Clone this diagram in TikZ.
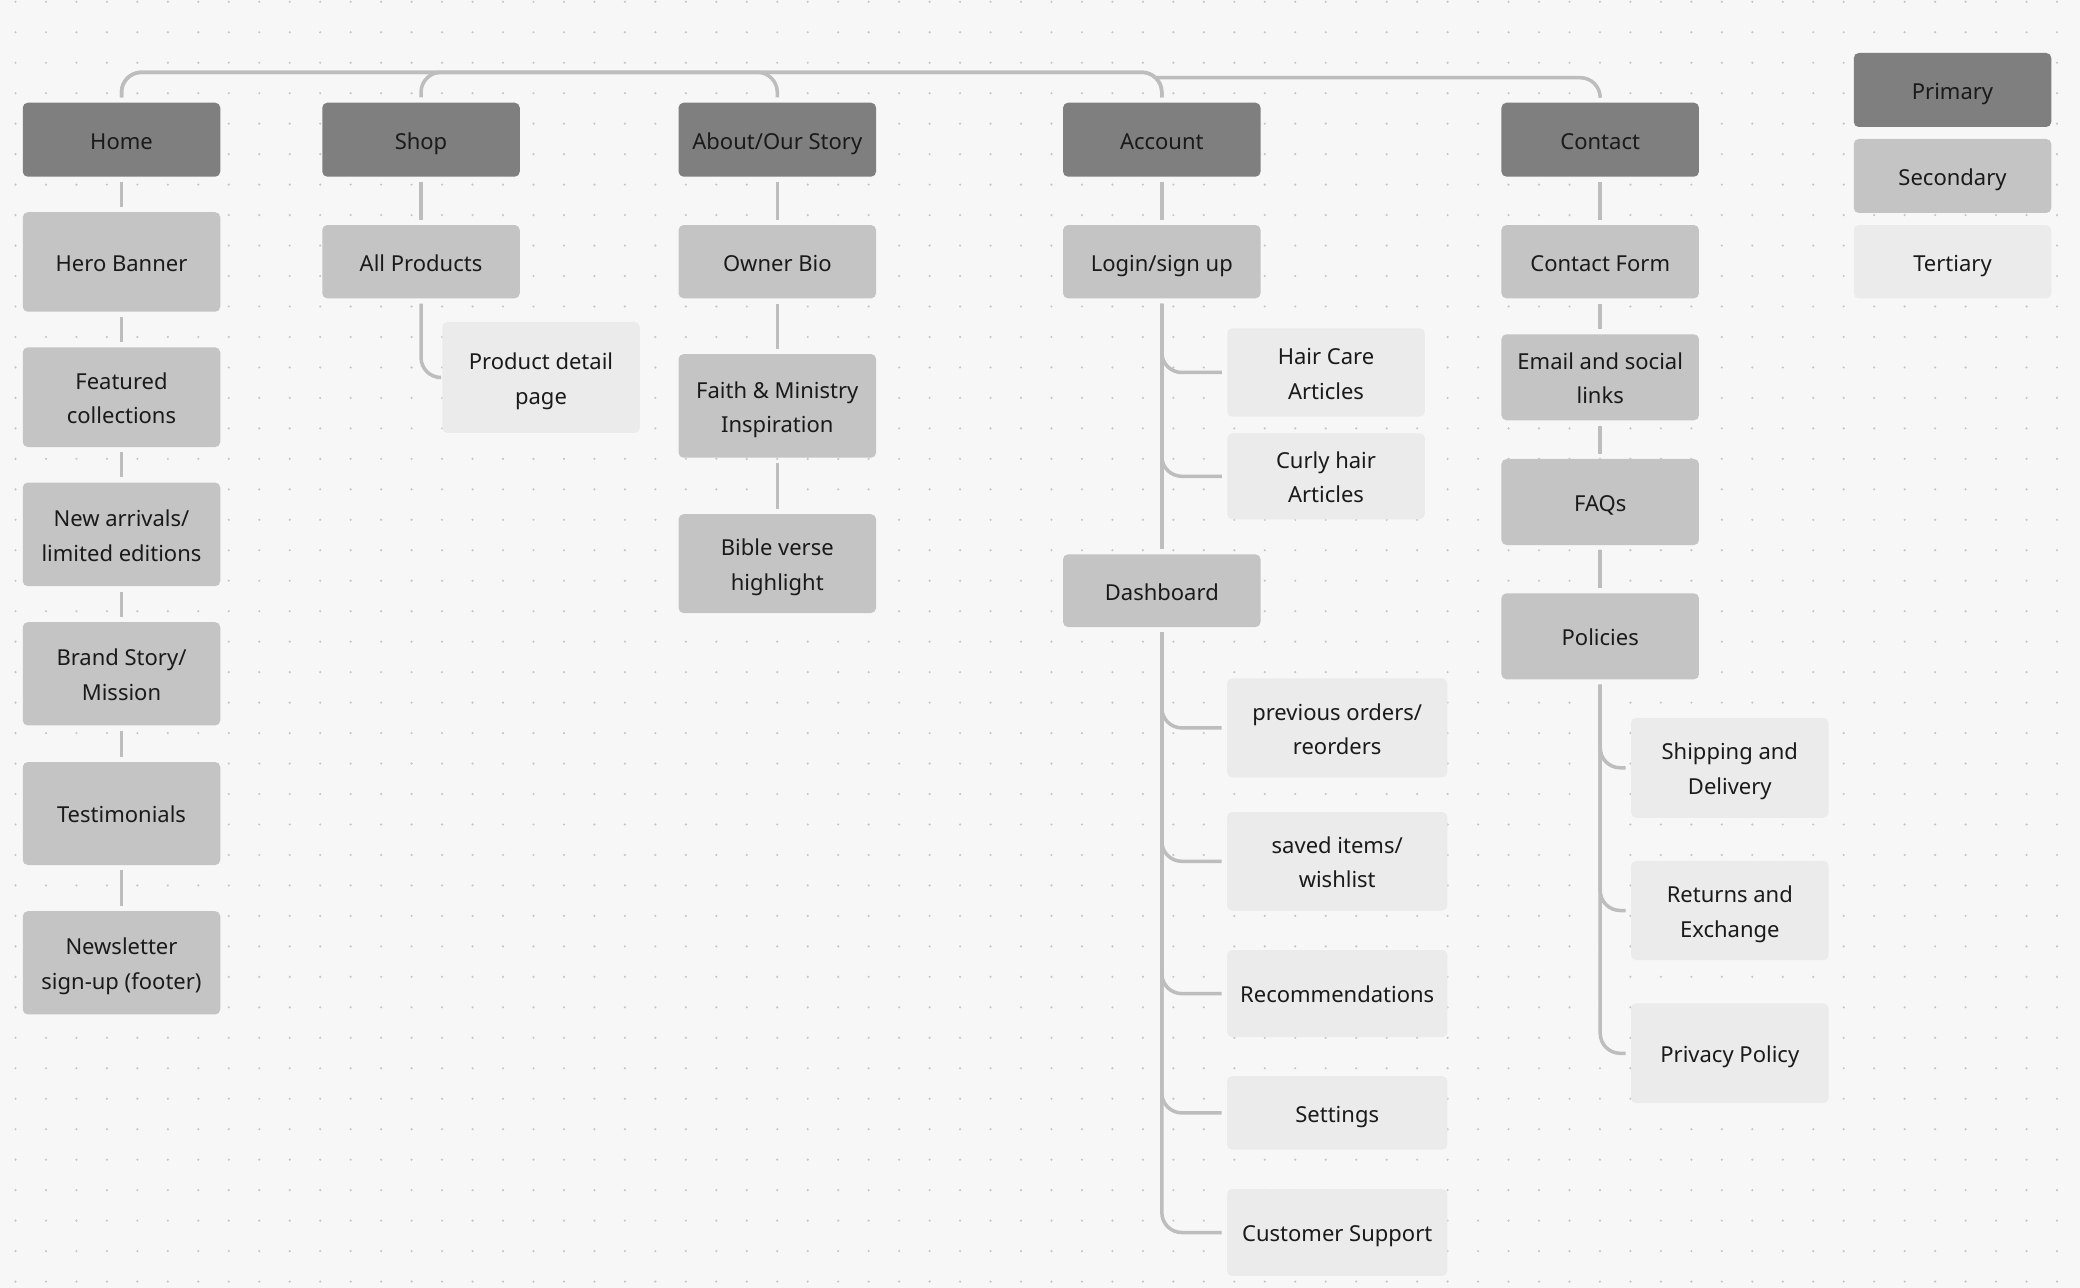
\documentclass[tikz,border=0pt]{standalone}
\usepackage{fontspec}
\setmainfont{Noto Sans}
\definecolor{bgc}{HTML}{F7F7F7}
\definecolor{dotc}{HTML}{C6C6C6}
\definecolor{primc}{HTML}{7F7F7F}
\definecolor{secc}{HTML}{C4C4C4}
\definecolor{terc}{HTML}{EBEBEB}
\definecolor{connc}{HTML}{BDBDBD}
\definecolor{txtc}{HTML}{1A1A1A}
\newcommand{\zs}{\rule[-3pt]{0pt}{15.36pt}}
\tikzset{
  box/.style={rounded corners=2.5pt, inner sep=0pt, align=center, text=txtc,
    font=\fontsize{11}{17.25}\selectfont, minimum width=98.75pt},
  prim/.style={box, fill=primc, minimum height=37pt},
  sec/.style={box, fill=secc},
  ter/.style={box, fill=terc},
  wide/.style={minimum width=110.2pt},
  conn/.style={draw=connc, line width=1.75pt, rounded corners=10pt},
  gap/.style={shorten <=2.5pt, shorten >=2.5pt}
}
\begin{document}
\begin{tikzpicture}[x=0.5pt,y=-0.5pt]
\fill[bgc] (0,0) rectangle (2080,1288);
\useasboundingbox (0,0) rectangle (2080,1288);
\foreach \i in {0,...,68}{
  \foreach \j in {0,...,42}{
    \fill[dotc] (15.5+30.47*\i,1.8+30.47*\j) circle (0.6pt);
  }
}
% primary
\node[prim] (home) at (121.5,139.7) {\zs Home};
\node[prim] (shop) at (421,139.7) {\zs Shop};
\node[prim] (about) at (777.3,139.7) {\zs About/Our Story};
\node[prim] (acct) at (1161.8,139.7) {\zs Account};
\node[prim] (contact) at (1600.2,139.7) {\zs Contact};
% legend
\node[prim] (lprim) at (1952.5,90) {\zs Primary};
\node[sec, minimum height=37pt] (lsec) at (1952.5,176) {\zs Secondary};
\node[ter, minimum height=36.65pt] (lter) at (1952.5,261.7) {\zs Tertiary};
% home column
\node[sec, minimum height=49.75pt] (hero) at (121.5,262) {\zs Hero Banner};
\node[sec, minimum height=49.85pt] (feat) at (121.5,397.2) {\zs Featured\\\zs collections};
\node[sec, minimum height=51.8pt] (newa) at (121.5,534.4) {\zs New arrivals/\\\zs limited editions};
\node[sec, minimum height=51.6pt] (brand) at (121.5,673.8) {\zs Brand Story/\\\zs Mission};
\node[sec, minimum height=51.5pt] (testi) at (121.5,813.5) {\zs Testimonials};
\node[sec, minimum height=51.6pt] (news) at (121.5,962.8) {\zs Newsletter\\\zs sign-up (footer)};
% shop column
\node[sec, minimum height=36.65pt] (allp) at (421,261.7) {\zs All Products};
\node[ter, minimum height=55.5pt] (pdp) at (541,377.5) {\zs Product detail\\\zs page};
% about column
\node[sec, minimum height=36.65pt] (owner) at (777.3,261.7) {\zs Owner Bio};
\node[sec, minimum height=51.85pt] (faith) at (777.3,405.9) {\zs Faith \& Ministry\\\zs Inspiration};
\node[sec, minimum height=49.4pt] (bible) at (777.3,563.6) {\zs Bible verse\\\zs highlight};
% account column
\node[sec, minimum height=36.65pt] (login) at (1161.8,261.7) {\zs Login/sign up};
\node[ter, minimum height=44.2pt] (hair) at (1326,372.5) {\zs Hair Care\\\zs Articles};
\node[ter, minimum height=43pt] (curly) at (1326,476.3) {\zs Curly hair\\\zs Articles};
\node[sec, minimum height=36.35pt] (dash) at (1161.8,590.7) {\zs Dashboard};
\node[ter, wide, minimum height=49.5pt] (prev) at (1337.2,727.9) {\zs previous orders/\\\zs reorders};
\node[ter, wide, minimum height=49.25pt] (saved) at (1337.2,861.3) {\zs saved items/\\\zs wishlist};
\node[ter, wide, minimum height=43.6pt] (recom) at (1337.2,993.6) {\zs Recommendations};
\node[ter, wide, minimum height=36.7pt] (sett) at (1337.2,1112.9) {\zs Settings};
\node[ter, wide, minimum height=43.45pt] (cust) at (1337.2,1232.5) {\zs Customer Support};
% contact column
\node[sec, minimum height=36.65pt] (cform) at (1600.2,261.7) {\zs Contact Form};
\node[sec, minimum height=43pt] (email) at (1600.2,377.3) {\zs Email and social\\\zs links};
\node[sec, minimum height=43pt] (faq) at (1600.2,502) {\zs FAQs};
\node[sec, minimum height=43pt] (pol) at (1600.2,636.3) {\zs Policies};
\node[ter, minimum height=50pt] (ship) at (1729.8,767.8) {\zs Shipping and\\\zs Delivery};
\node[ter, minimum height=49.7pt] (ret) at (1729.8,910.5) {\zs Returns and\\\zs Exchange};
\node[ter, minimum height=49.9pt] (priv) at (1729.8,1053.3) {\zs Privacy Policy};
% top bus
\coordinate (bus) at (0,72.3);
\coordinate (cstart) at (1155,77.7);
\draw[conn,gap] (home.north) -- (home.north |- bus) -- (acct.north |- bus) -- (acct.north);
\draw[conn,gap] (shop.north) -- (shop.north |- bus) -- (acct.north |- bus) -- (acct.north);
\draw[conn,gap] (about.north) -- (about.north |- bus) -- (home.north |- bus) -- (home.north);
\draw[conn,shorten >=2.5pt] (cstart) -- (contact.north |- cstart) -- (contact.north);
% chains
\draw[conn,gap] (home) -- (hero);
\draw[conn,gap] (hero) -- (feat);
\draw[conn,gap] (feat) -- (newa);
\draw[conn,gap] (newa) -- (brand);
\draw[conn,gap] (brand) -- (testi);
\draw[conn,gap] (testi) -- (news);
\draw[conn,gap] (shop) -- (allp);
\draw[conn,gap] (allp.south) -- (allp.south |- pdp.west) -- (pdp.west);
\draw[conn,gap] (about) -- (owner);
\draw[conn,gap] (owner) -- (faith);
\draw[conn,gap] (faith) -- (bible);
\draw[conn,gap] (acct) -- (login);
\draw[conn,gap] (login) -- (dash);
\foreach \c in {hair,curly}{
  \draw[conn,gap] (login.south) -- (login.south |- \c.west) -- (\c.west);
}
\foreach \c in {prev,saved,recom,sett,cust}{
  \draw[conn,gap] (dash.south) -- (dash.south |- \c.west) -- (\c.west);
}
\draw[conn,gap] (contact) -- (cform);
\draw[conn,gap] (cform) -- (email);
\draw[conn,gap] (email) -- (faq);
\draw[conn,gap] (faq) -- (pol);
\foreach \c in {ship,ret,priv}{
  \draw[conn,gap] (pol.south) -- (pol.south |- \c.west) -- (\c.west);
}
\end{tikzpicture}
\end{document}
